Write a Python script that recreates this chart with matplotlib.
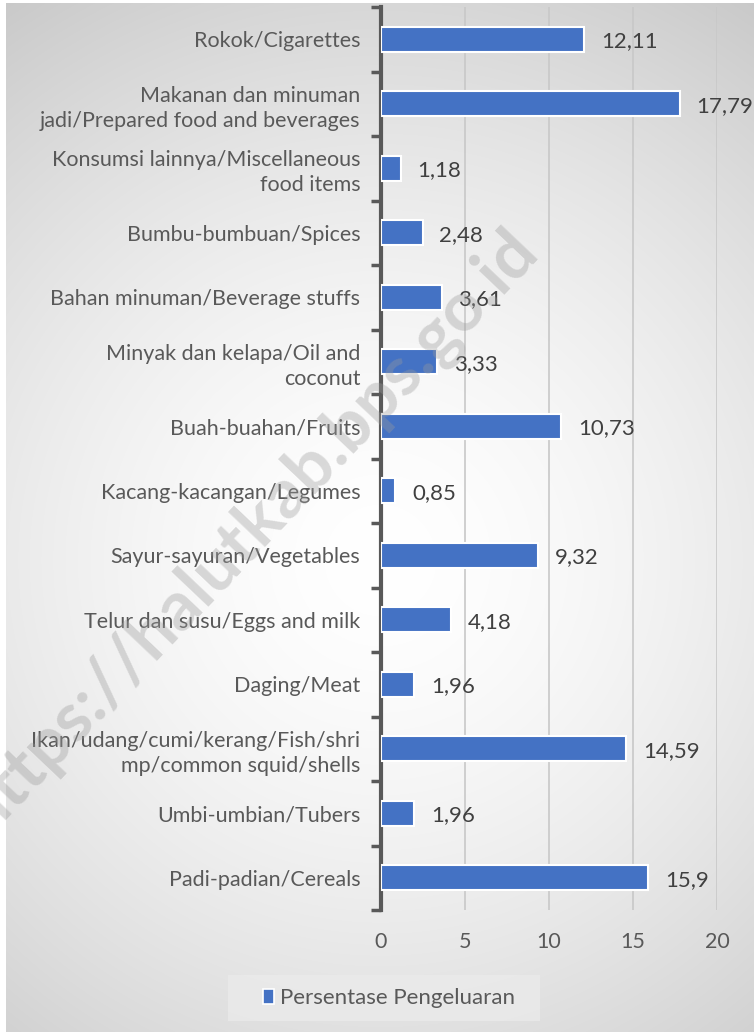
import matplotlib
matplotlib.use('Agg')
import matplotlib.pyplot as plt
import numpy as np
from matplotlib.patches import Rectangle

CATEGORIES = [
    'Rokok/Cigarettes',
    'Makanan dan minuman\njadi/Prepared food and beverages',
    'Konsumsi lainnya/Miscellaneous\nfood items',
    'Bumbu-bumbuan/Spices',
    'Bahan minuman/Beverage stuffs',
    'Minyak dan kelapa/Oil and\ncoconut',
    'Buah-buahan/Fruits',
    'Kacang-kacangan/Legumes',
    'Sayur-sayuran/Vegetables',
    'Telur dan susu/Eggs and milk',
    'Daging/Meat',
    'Ikan/udang/cumi/kerang/Fish/shri\nmp/common squid/shells',
    'Umbi-umbian/Tubers',
    'Padi-padian/Cereals',
]
VALUES = [12.11, 17.79, 1.18, 2.48, 3.61, 3.33, 10.73, 0.85, 9.32, 4.18, 1.96, 14.59, 1.96, 15.9]
X_TICKS = [0, 5, 10, 15, 20]
SERIES_NAME = 'Persentase Pengeluaran'
WATERMARK = 'https://halutkab.bps.go.id'

BAR_COLOUR = '#4472C4'
TEXT_COLOUR = '#595959'
LABEL_COLOUR = '#404040'
GRID_COLOUR = '#c8c8c8'
FONT = ['Lato', 'DejaVu Sans']
FS = 15.5

plt.rcParams['font.family'] = FONT

fig = plt.figure(figsize=(7.54, 10.32), dpi=100)
W, H = 754, 1032

# radial grey gradient behind the chart, white margin round it
bg = fig.add_axes([0, 0, 1, 1], zorder=-10)
yy, xx = np.mgrid[0:H, 0:W]
d = np.sqrt((xx - 380.0) ** 2 + (yy - 560.0) ** 2) / 650.0
shade = 1.0 - 0.2 * np.clip(d, 0, 1.2) ** 1.6
img = np.dstack([shade, shade, shade])
img[:3, :, :] = 1.0
img[:, :6, :] = 1.0
bg.imshow(img, extent=[0, W, H, 0], aspect='auto', interpolation='bilinear')
bg.set_xlim(0, W)
bg.set_ylim(H, 0)
bg.axis('off')
# legend box sits on the background
bg.add_patch(Rectangle((228, 975), 312, 46, facecolor='#ebebeb', edgecolor='none', alpha=0.75))

ax = fig.add_axes([381 / W, 1 - 910 / H, (717 - 381) / W, (910 - 7) / H])
ax.set_facecolor('none')

y_pos = np.arange(len(CATEGORIES))
ax.barh(y_pos, VALUES, height=0.38, color=BAR_COLOUR, edgecolor='white',
        linewidth=1.5, zorder=3)

for y, v in zip(y_pos, VALUES):
    txt = ('%g' % v).replace('.', ',')
    ax.text(v + 1.0, y + 0.03, txt, va='center', ha='left', fontsize=FS + 0.5,
            color=LABEL_COLOUR, zorder=4)

ax.set_xlim(0, 20)
ax.set_ylim(len(CATEGORIES) - 0.5, -0.5)
ax.set_xticks(X_TICKS)
ax.set_xticklabels([str(t) for t in X_TICKS], fontsize=FS, color=TEXT_COLOUR)
ax.tick_params(axis='x', length=0, pad=16)
ax.grid(axis='x', color=GRID_COLOUR, linewidth=1.2, zorder=0)

ax.set_yticks(y_pos)
ax.set_yticklabels(CATEGORIES, fontsize=FS, color=TEXT_COLOUR, linespacing=1.3)
ax.set_yticks(np.arange(-0.5, len(CATEGORIES), 1.0), minor=True)
ax.tick_params(axis='y', which='major', length=0, pad=15)
ax.tick_params(axis='y', which='minor', length=7, width=2.5, color='#595959', direction='out')

for s in ['top', 'right', 'bottom']:
    ax.spines[s].set_visible(False)
ax.spines['left'].set_color('#595959')
ax.spines['left'].set_linewidth(3)

# legend
fig.legend([Rectangle((0, 0), 1, 1, facecolor=BAR_COLOUR, edgecolor='white', linewidth=1.2)],
           [SERIES_NAME], loc='center', bbox_to_anchor=(389 / W, 1 - 998 / H),
           frameon=False, fontsize=FS + 0.5, handlelength=0.5, handleheight=0.65,
           handletextpad=0.25, borderpad=0.5, borderaxespad=0,
           labelcolor=TEXT_COLOUR)

# watermark, drawn over everything
fig.text(250 / W, 1 - 532 / H, WATERMARK, rotation=46.5, fontsize=50,
         fontweight='bold', color='#9a9a9a', alpha=0.36, ha='center', va='center',
         family=FONT, zorder=20)

fig.savefig('out.png', dpi=100)
